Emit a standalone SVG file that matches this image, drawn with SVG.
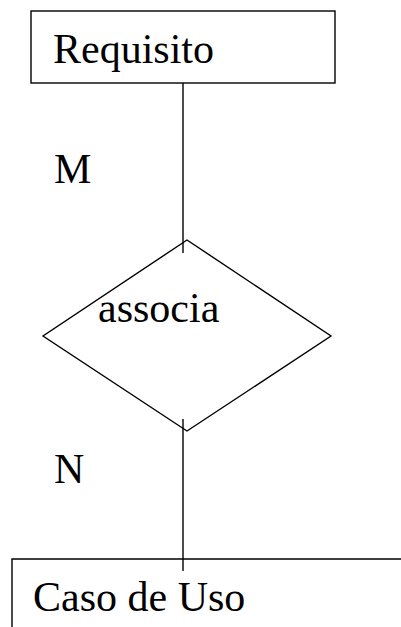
<svg xmlns="http://www.w3.org/2000/svg" width="401" height="627" viewBox="0 0 401 627">
<style>
.s{fill:none;stroke:#000;stroke-width:1.4}
</style>
<rect width="401" height="627" fill="#fff"/>
<g id="connectors">
<line class="s" x1="183" y1="83" x2="183" y2="253"/>
<line class="s" x1="183" y1="419" x2="183" y2="571"/>
</g>
<g id="requisito">
<rect class="s" x="31" y="11" width="304" height="72"/>
<text x="53" y="63" font-family="Liberation Serif" font-size="42">Requisito</text>
</g>
<g id="associa">
<polygon class="s" points="187,240 331,336 187,431 43,336"/>
<text x="98" y="322" font-family="Liberation Serif" font-size="42">associa</text>
</g>
<g id="caso">
<polyline class="s" points="12,627 12,559 401,559"/>
<text x="33" y="611" font-family="Liberation Serif" font-size="42">Caso de Uso</text>
</g>
<g id="labels">
<text x="54" y="183" font-family="Liberation Serif" font-size="42">M</text>
<text x="54" y="483" font-family="Liberation Serif" font-size="42">N</text>
</g>
</svg>
